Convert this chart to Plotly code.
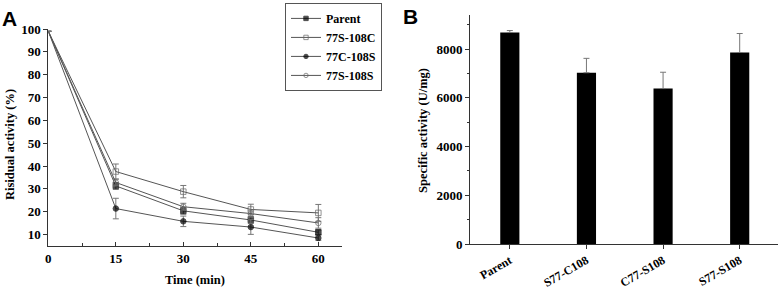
import plotly.graph_objects as go

# ---------------- Data ----------------
time_min = [0, 15, 30, 45, 60]

parent = [99, 31.3, 20.4, 16.4, 11.0]
parent_err = [0, 1.5, 1.5, 1.5, 1.0]

s77_c108 = [99, 37.6, 28.8, 21.0, 19.5]
s77_c108_err = [0, 3.3, 2.7, 2.3, 3.7]

c77_s108 = [99, 21.4, 15.8, 13.3, 8.5]
c77_s108_err = [0, 4.5, 2.3, 3.2, 1.0]

s77_s108 = [99, 32.8, 22.2, 19.2, 15.1]
s77_s108_err = [0, 1.5, 1.5, 1.5, 2.3]

series_names = ["Parent", "77S-108C", "77C-108S", "77S-108S"]

bar_categories = ["Parent", "S77-C108", "C77-S108", "S77-S108"]
bar_values = [8680, 7030, 6380, 7860]
bar_err_up = [80, 590, 670, 780]

A_yticks = [10, 20, 30, 40, 50, 60, 70, 80, 90, 100]
A_xticks = [0, 15, 30, 45, 60]
B_yticks = [0, 2000, 4000, 6000, 8000]

# ---------------- Styling ----------------
SERIF = "Liberation Serif"
SANS = "Liberation Sans"
LINE = "#555555"
AX = "#333333"

fig = go.Figure()

styles = [
    dict(symbol="square", fill="black", line="black"),
    dict(symbol="square-open", fill="#666666", line="#666666"),
    dict(symbol="circle", fill="black", line="black"),
    dict(symbol="circle-open", fill="#666666", line="#666666"),
]
ys = [parent, s77_c108, c77_s108, s77_s108]
errs = [parent_err, s77_c108_err, c77_s108_err, s77_s108_err]
marker_sizes = [0, 5.5, 5.5, 5.5, 5.5]  # no visible marker at t=0 (lines converge there)

for name, y, e, st in zip(series_names, ys, errs, styles):
    fig.add_trace(go.Scatter(
        x=time_min, y=y, name=name, mode="lines+markers",
        line=dict(color=LINE, width=1),
        marker=dict(symbol=st["symbol"], size=marker_sizes, color=st["fill"],
                    line=dict(color=st["line"], width=1)),
        error_y=dict(type="data", array=e, visible=True, color="#777777", thickness=1, width=3),
        xaxis="x", yaxis="y",
    ))

fig.add_trace(go.Bar(
    x=bar_categories, y=bar_values, width=0.25,
    marker=dict(color="black", line=dict(color="black", width=0)),
    error_y=dict(type="data", symmetric=False, array=bar_err_up, arrayminus=[0] * len(bar_err_up),
                 color="#777777", thickness=1, width=3),
    showlegend=False, xaxis="x2", yaxis="y2",
))

tickfont = dict(family=SERIF, size=13, color="black", weight="bold")
tickfont_small = dict(family=SERIF, size=12, color="black", weight="bold")

common = dict(showline=True, linecolor=AX, linewidth=1, showgrid=False, zeroline=False,
              fixedrange=True, automargin=False, tickcolor=AX)

fig.update_layout(
    width=782, height=291,
    margin=dict(l=0, r=0, t=0, b=0, autoexpand=False),
    paper_bgcolor="white", plot_bgcolor="white",
    font=dict(family=SERIF, size=12, color="black"),
    xaxis=dict(domain=[0.0618, 0.437], range=[0, 65.2], tickvals=A_xticks,
               ticks="inside", ticklen=4, tickfont=tickfont,
               minor=dict(dtick=7.5, tick0=0, ticks="inside", ticklen=3, tickcolor=AX),
               anchor="y", **common),
    yaxis=dict(domain=[0.1546, 0.9003], range=[5, 100], tickvals=A_yticks,
               ticks="outside", ticklen=4, tickfont=tickfont, anchor="x", **common),
    xaxis2=dict(domain=[0.601, 0.9949], range=[-0.52, 3.5], type="category",
                ticks="outside", ticklen=4, tickangle=-30, tickfont=tickfont_small,
                anchor="y2", **common),
    yaxis2=dict(domain=[0.1615, 0.9485], range=[0, 9400], tickvals=B_yticks,
                ticks="outside", ticklen=4, tickfont=tickfont,
                minor=dict(dtick=1000, ticks="outside", ticklen=2, tickcolor=AX),
                anchor="x2", **common),
    legend=dict(x=285 / 782, y=0.99, xanchor="left", yanchor="top",
                bordercolor="#555555", borderwidth=1, bgcolor="white",
                font=dict(family=SERIF, size=12, color="black", weight="bold"),
                tracegroupgap=0, itemwidth=30),
    showlegend=True,
)

fig.add_annotation(text="A", x=0.0, y=1 - 18 / 291, xref="paper", yref="paper",
                   xanchor="left", yanchor="middle", showarrow=False,
                   font=dict(family=SANS, size=21, color="black", weight="bold"))
fig.add_annotation(text="B", x=401 / 782, y=1 - 16 / 291, xref="paper", yref="paper",
                   xanchor="left", yanchor="middle", showarrow=False,
                   font=dict(family=SANS, size=21, color="black", weight="bold"))

fig.add_annotation(text="Risidual activity (%)", x=10 / 782, y=1 - 145 / 291, xref="paper", yref="paper",
                   textangle=-90, showarrow=False, xanchor="center", yanchor="middle",
                   font=dict(family=SERIF, size=12.5, color="black", weight="bold"))
fig.add_annotation(text="Time (min)", x=195 / 782, y=1 - 280 / 291, xref="paper", yref="paper",
                   showarrow=False, xanchor="center", yanchor="middle",
                   font=dict(family=SERIF, size=12.5, color="black", weight="bold"))
fig.add_annotation(text="Specific activity (U/mg)", x=423 / 782, y=1 - 131 / 291, xref="paper", yref="paper",
                   textangle=-90, showarrow=False, xanchor="center", yanchor="middle",
                   font=dict(family=SERIF, size=12.5, color="black", weight="bold"))

fig.write_html(
    "out.html",
    config={"displayModeBar": False, "staticPlot": True},
    post_script="document.body.style.margin='0';document.body.style.overflow='hidden';",
)
